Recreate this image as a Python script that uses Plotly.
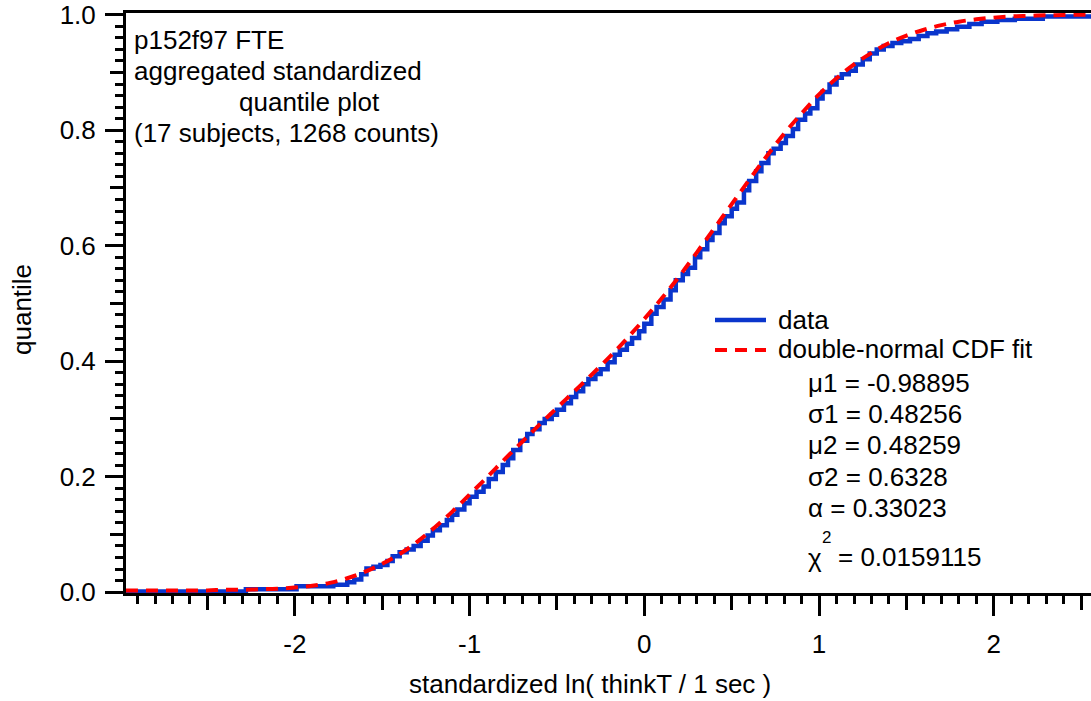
import plotly.graph_objects as go

# ---- fitted model parameters -------------------------------------------
mu1, sigma1 = -0.98895, 0.48256
mu2, sigma2 = 0.48259, 0.6328
alpha = 0.33023
chi2 = 0.0159115

# ---- aggregated empirical quantiles (step curve) ------------------------
data_x = [-2.966, -2.28, -1.99, -1.78, -1.70, -1.66, -1.62, -1.59, -1.55, -1.51,
          -1.47, -1.44, -1.40, -1.36, -1.32, -1.28, -1.24, -1.21, -1.17, -1.13,
          -1.10, -1.07, -1.03, -1.00, -0.96, -0.92, -0.89, -0.85, -0.81, -0.78,
          -0.75, -0.71, -0.67, -0.64, -0.60, -0.57, -0.53, -0.50, -0.46, -0.42,
          -0.39, -0.35, -0.32, -0.28, -0.25, -0.21, -0.17, -0.14, -0.10, -0.07,
          -0.03, 0.00, 0.04, 0.07, 0.11, 0.15, 0.18, 0.22, 0.25, 0.29,
          0.32, 0.36, 0.39, 0.43, 0.46, 0.50, 0.53, 0.57, 0.60, 0.64,
          0.67, 0.71, 0.74, 0.78, 0.81, 0.85, 0.88, 0.92, 0.95, 0.99,
          1.02, 1.06, 1.10, 1.13, 1.17, 1.21, 1.25, 1.29, 1.33, 1.37,
          1.42, 1.47, 1.52, 1.57, 1.62, 1.67, 1.73, 1.79, 1.86, 1.93,
          2.02, 2.12, 2.28, 2.556]
data_q = [0.001, 0.005, 0.010, 0.013, 0.017, 0.022, 0.031, 0.041, 0.044, 0.047,
          0.054, 0.062, 0.069, 0.074, 0.080, 0.089, 0.098, 0.107, 0.116, 0.125,
          0.134, 0.143, 0.154, 0.165, 0.174, 0.183, 0.196, 0.208, 0.220, 0.232,
          0.246, 0.262, 0.274, 0.282, 0.293, 0.300, 0.307, 0.316, 0.327, 0.338,
          0.348, 0.360, 0.369, 0.378, 0.386, 0.398, 0.411, 0.420, 0.430, 0.440,
          0.452, 0.465, 0.482, 0.494, 0.507, 0.523, 0.540, 0.551, 0.562, 0.580,
          0.594, 0.610, 0.622, 0.639, 0.651, 0.664, 0.675, 0.696, 0.712, 0.729,
          0.743, 0.760, 0.768, 0.778, 0.790, 0.802, 0.818, 0.829, 0.838, 0.855,
          0.866, 0.879, 0.891, 0.897, 0.903, 0.914, 0.923, 0.933, 0.940, 0.946,
          0.951, 0.954, 0.958, 0.963, 0.968, 0.971, 0.975, 0.979, 0.984, 0.988,
          0.991, 0.993, 0.997, 0.997]

# ---- double-normal CDF fit, sampled along x -----------------------------
fit_x = [-2.966, -2.9, -2.8, -2.7, -2.6, -2.5, -2.4, -2.3, -2.2, -2.1,
         -2.0, -1.9, -1.8, -1.7, -1.6, -1.5, -1.4, -1.3, -1.2, -1.1,
         -1.0, -0.9, -0.8, -0.7, -0.6, -0.5, -0.4, -0.3, -0.2, -0.1,
         0.0, 0.1, 0.2, 0.3, 0.4, 0.5, 0.6, 0.7, 0.8, 0.9,
         1.0, 1.1, 1.2, 1.3, 1.4, 1.5, 1.6, 1.7, 1.8, 1.9,
         2.0, 2.1, 2.2, 2.3, 2.4, 2.5, 2.556]
fit_q = [0.003, 0.003, 0.003, 0.003, 0.003, 0.003, 0.004, 0.004, 0.005, 0.006,
         0.008, 0.011, 0.016, 0.024, 0.035, 0.049, 0.066, 0.087, 0.112, 0.139,
         0.169, 0.199, 0.230, 0.260, 0.290, 0.319, 0.348, 0.377, 0.407, 0.439,
         0.473, 0.509, 0.547, 0.588, 0.630, 0.672, 0.714, 0.755, 0.794, 0.829,
         0.862, 0.890, 0.914, 0.934, 0.951, 0.964, 0.974, 0.982, 0.988, 0.992,
         0.995, 0.997, 0.998, 0.999, 0.9995, 1.0, 1.0]

# ---- axis ticks -------------------------------------------------------------
x_major = [-2, -1, 0, 1, 2]
x_major_text = ["-2", "-1", "0", "1", "2"]
x_half = [-2.5, -1.5, -0.5, 0.5, 1.5, 2.5]
y_major = [0.0, 0.2, 0.4, 0.6, 0.8, 1.0]
y_major_text = ["0.0", "0.2", "0.4", "0.6", "0.8", "1.0"]
y_half = [0.1, 0.3, 0.5, 0.7, 0.9]

title_lines = ["p152f97 FTE", "aggregated standardized", "quantile plot",
               "(17 subjects, 1268 counts)"]

FONT = "Liberation Sans, Arial, Helvetica, sans-serif"
BLUE = "#0a35cc"
RED = "#ff0000"
FS = 26

W, H = 1091, 701
ML, MR, MT, MB = 126, 0, 13, 108
PW, PH = W - ML - MR, H - MT - MB
X_RANGE = [-2.966, 2.556]
Y_RANGE = [-0.0015, 1.003]


def px(x):
    """pixel column -> paper x"""
    return (x - ML) / PW


def py(y):
    """pixel row -> paper y"""
    return (H - MB - y) / PH


fig = go.Figure()
fig.add_trace(go.Scatter(x=data_x, y=data_q, mode="lines", name="data",
                         line=dict(color=BLUE, width=4.5, shape="hv"),
                         showlegend=False))
fig.add_trace(go.Scatter(x=fit_x, y=fit_q, mode="lines",
                         name="double-normal CDF fit",
                         line=dict(color=RED, width=4, dash="12px,8px",
                                   shape="spline"),
                         showlegend=False))
# carrier for the secondary (mid-tick) axes
fig.add_trace(go.Scatter(x=[None], y=[None], xaxis="x2", yaxis="y2",
                         showlegend=False, hoverinfo="skip"))

axis_common = dict(showline=True, linewidth=3, linecolor="black",
                   ticks="outside", tickwidth=3, tickcolor="black",
                   showgrid=False, zeroline=False)

fig.update_layout(
    width=W, height=H,
    margin=dict(l=ML, r=MR, t=MT, b=MB, pad=0),
    paper_bgcolor="white", plot_bgcolor="white",
    font=dict(family=FONT, size=FS, color="black"),
    xaxis=dict(range=X_RANGE, tickvals=x_major, ticktext=x_major_text,
               ticklen=20, mirror=True, ticklabelstandoff=6,
               ticklabeloverflow="allow", tickfont=dict(size=FS),
               minor=dict(ticks="outside", dtick=0.1, tick0=0, ticklen=8,
                          tickwidth=3, tickcolor="black", showgrid=False),
               **axis_common),
    xaxis2=dict(range=X_RANGE, overlaying="x", anchor="y", side="bottom",
                tickvals=x_half, ticklen=14, showticklabels=False,
                **axis_common),
    yaxis=dict(range=Y_RANGE, tickvals=y_major, ticktext=y_major_text,
               ticklen=18, ticklabelstandoff=4, ticklabeloverflow="allow",
               tickfont=dict(size=FS),
               minor=dict(ticks="outside", dtick=0.02, tick0=0, ticklen=8,
                          tickwidth=3, tickcolor="black", showgrid=False),
               **axis_common),
    yaxis2=dict(range=Y_RANGE, overlaying="y", anchor="x", side="left",
                tickvals=y_half, ticklen=13, showticklabels=False,
                **axis_common),
)

annotations = []


def label(text, x, y, xanchor="left", size=FS, angle=0):
    annotations.append(dict(text=text, x=px(x), y=py(y), xref="paper",
                            yref="paper", xanchor=xanchor, yanchor="middle",
                            showarrow=False, textangle=angle,
                            font=dict(family=FONT, size=size, color="black")))


# axis titles
label("standardized ln( thinkT / 1 sec )", 590, 684, xanchor="center")
label("quantile", 22, 310, xanchor="center", angle=-90)

# header block
label(title_lines[0], 132, 40)
label(title_lines[1], 132, 71)
label(title_lines[2], 309, 102, xanchor="center")
label(title_lines[3], 132, 133)

# legend entries and fit parameters
label("data", 776, 320)
label("double-normal CDF fit", 776, 349)
label(f"\u03bc1 = {mu1}", 806, 383)
label(f"\u03c31 = {sigma1}", 806, 414)
label(f"\u03bc2 = {mu2}", 806, 445)
label(f"\u03c32 = {sigma2}", 806, 477)
label(f"\u03b1 = {alpha}", 806, 508)
label("\u03c7", 806, 558)
label("2", 820, 537, size=17)
label(f"= {chi2}", 836, 557)

fig.update_layout(annotations=annotations)

# legend line samples
fig.add_shape(type="line", xref="paper", yref="paper",
              x0=px(715), x1=px(766), y0=py(320), y1=py(320),
              line=dict(color=BLUE, width=4.5))
fig.add_shape(type="line", xref="paper", yref="paper",
              x0=px(715), x1=px(766), y0=py(350), y1=py(350),
              line=dict(color=RED, width=4, dash="12px,8px"))

fig.write_html("out.html")
